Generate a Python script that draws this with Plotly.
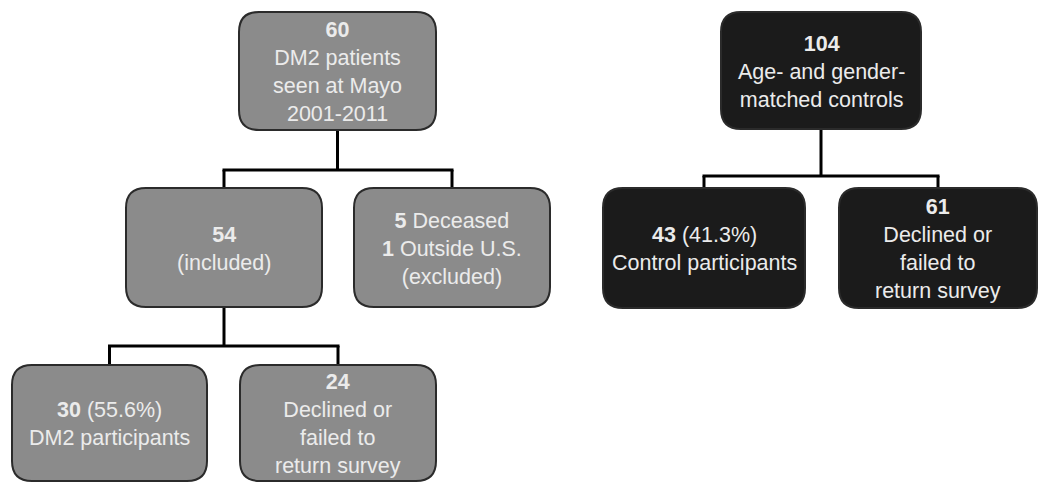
import plotly.graph_objects as go

# ---- data ----
counts = [60, 54, 6, 30, 24, 104, 43, 61]
box_texts = [
    "<b>60</b><br>DM2 patients<br>seen at Mayo<br>2001-2011",
    "<b>54</b><br>(included)",
    "<b>5</b> Deceased<br><b>1</b> Outside U.S.<br>(excluded)",
    "<b>30</b> (55.6%)<br>DM2 participants",
    "<b>24</b><br>Declined or<br>failed to<br>return survey",
    "<b>104</b><br>Age- and gender-<br>matched controls",
    "<b>43</b> (41.3%)<br>Control participants",
    "<b>61</b><br>Declined or<br>failed to<br>return survey",
]
groups = ["DM2", "DM2", "DM2", "DM2", "DM2", "Control", "Control", "Control"]
parents = [None, 0, 0, 1, 1, None, 5, 5]

# ---- layout (page pixel positions: x0, x1, y0, y1) ----
boxes = [
    (239, 436, 12, 130),
    (126, 322, 188, 307),
    (354, 550, 188, 307),
    (12, 207, 365, 481),
    (240, 436, 365, 481),
    (721, 921, 12, 129),
    (603, 805, 188, 308),
    (839, 1037, 188, 308),
]
branch_y = {0: 170, 1: 346, 5: 176}
fills = {"DM2": "#8b8b8b", "Control": "#1b1b1b"}
R = 20
W, H = 1040, 483

def rrect(x0, x1, y0, y1, r):
    return (f"M {x0+r},{y0} L {x1-r},{y0} Q {x1},{y0} {x1},{y0+r} "
            f"L {x1},{y1-r} Q {x1},{y1} {x1-r},{y1} L {x0+r},{y1} "
            f"Q {x0},{y1} {x0},{y1-r} L {x0},{y0+r} Q {x0},{y0} {x0+r},{y0} Z")

shapes = []
annotations = []

for p in sorted(set(x for x in parents if x is not None)):
    kids = [i for i, q in enumerate(parents) if q == p]
    px = (boxes[p][0] + boxes[p][1]) / 2
    by = branch_y[p]
    shapes.append(dict(type="line", x0=px, x1=px, y0=boxes[p][3], y1=by,
                       line=dict(color="black", width=3), layer="below"))
    cxs = [(boxes[k][0] + boxes[k][1]) / 2 for k in kids]
    shapes.append(dict(type="line", x0=min(cxs) - 1.5, x1=max(cxs) + 1.5, y0=by, y1=by,
                       line=dict(color="black", width=3), layer="below"))
    for k, cx in zip(kids, cxs):
        shapes.append(dict(type="line", x0=cx, x1=cx, y0=by, y1=boxes[k][2],
                           line=dict(color="black", width=3), layer="below"))

for i, (x0, x1, y0, y1) in enumerate(boxes):
    shapes.append(dict(type="path", path=rrect(x0, x1, y0, y1, R),
                       fillcolor=fills[groups[i]],
                       line=dict(color="#2b2b2b", width=2), layer="below"))
    annotations.append(dict(x=(x0 + x1) / 2, y=(y0 + y1) / 2 + 1, text=box_texts[i],
                            showarrow=False, xanchor="center", yanchor="middle",
                            align="center",
                            font=dict(family="Liberation Sans, Arial", size=21.5,
                                      color="#ebebeb")))

fig = go.Figure()
fig.add_trace(go.Scatter(x=[0, W], y=[0, H], mode="markers",
                         marker=dict(opacity=0), hoverinfo="skip", showlegend=False))
fig.update_layout(
    width=W, height=H,
    margin=dict(l=0, r=0, t=0, b=0),
    paper_bgcolor="white", plot_bgcolor="white",
    xaxis=dict(range=[0, W], visible=False, fixedrange=True),
    yaxis=dict(range=[H, 0], visible=False, fixedrange=True),
    shapes=shapes, annotations=annotations, showlegend=False,
)
fig.write_html("out.html",
               config={"displayModeBar": False, "staticPlot": True},
               post_script="document.body.style.margin='0';"
                           "document.body.style.overflow='hidden';")
